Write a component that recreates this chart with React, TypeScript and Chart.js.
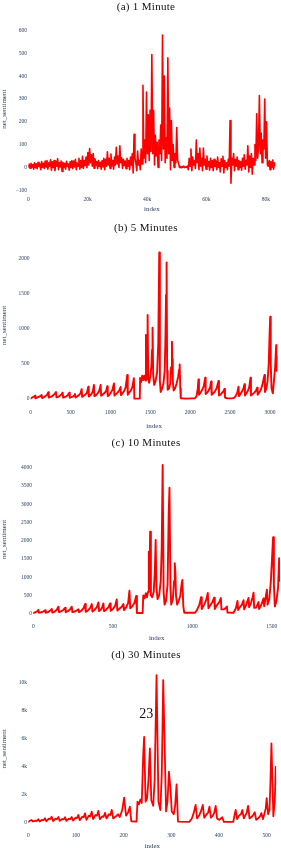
import React, { useEffect, useRef } from "react";
import { Chart, registerables } from "chart.js";

Chart.register(...registerables);

// ---------- (a) 1 Minute : values resampled along index 0 .. 83200 ----------
const oneMinuteLastIndex = 83200;
const oneMinuteValues: number[] = [
  2, 14, -4, 18, 0, 12, -8, 20, -2, 16,
  -6, 22, 4, 15, -10, 25, 0, 18, -5, 28,
  2, 30, -8, 20, 5, 33, -12, 24, 0, 30,
  -15, 26, 5, 38, -10, 20, 2, 28, -18, 22,
  0, 18, -8, 26, 4, 15, -12, 24, 0, 30,
  -6, 28, 2, 35, -10, 20, 5, 40, -8, 30,
  0, 48, -5, 30, 8, 45, -2, 65, 10, 82,
  20, 55, 5, 60, -4, 38, 10, 25, -6, 30,
  4, 22, -8, 30, 2, 40, -10, 35, 5, 68,
  10, 40, -5, 58, 6, 30, -8, 45, 10, 88,
  15, 50, 0, 95, 20, 42, -5, 35, 8, 28,
  -6, 40, 5, 30, -10, 45, 10, 60, -25, 145,
  40, 20, -15, 72, 10, 30, -10, 80, 15, 360,
  40, 120, 20, 330, 60, 230, 30, 250, 70, 495,
  60, 250, 10, 140, 50, 110, 0, 120, 60, 185,
  30, 580, 80, 400, 20, 130, 40, 480, 60, 260,
  -10, 205, 30, 100, 0, 60, 20, 175, 30, 20,
  0, 4, -2, 3, 0, 5, -1, 2, 0, 6,
  -10, 40, 5, 80, -15, 45, 10, 30, -5, 120,
  20, 60, -10, 85, 5, 40, -15, 85, 10, 35,
  -8, 50, 5, 25, -12, 40, 0, 30, -15, 35,
  4, 28, -10, 45, 0, 20, -20, 38, 5, 48,
  -25, 30, 0, 20, -10, 35, 5, 205, -70, 40,
  10, 60, -15, 35, 5, 45, -10, 30, 0, 25,
  -12, 40, 5, 55, -8, 30, 10, 95, -20, 50,
  0, 60, -30, 40, 10, 100, 30, 235, 40, 90,
  315, 60, 150, 20, 120, 80, 300, 40, 200, 10,
  5, 30, -10, 25, 0, 32, -8, 20, 10,
];
const oneMinuteXTicks = [0, 20000, 40000, 60000, 80000];
const oneMinuteXLabels = ["0", "20k", "40k", "60k", "80k"];
const oneMinuteYTicks = [-100, 0, 100, 200, 300, 400, 500, 600];
const oneMinuteYLabels = ["\u2212100", "0", "100", "200", "300", "400", "500", "600"];

// ---------- (b) 5 Minutes : [index, net_sentiment] ----------
const fiveMinutePoints: [number, number][] = [
  [0, 5], [10, 15], [25, 25], [40, 35], [54, 47], [60, 10],
  [80, 20], [100, 30], [120, 40], [137, 55], [143, 12],
  [165, 25], [185, 40], [205, 60], [221, 95], [227, 20],
  [250, 30], [275, 45], [300, 70], [317, 100], [323, 22],
  [345, 30], [365, 45], [385, 65], [401, 90], [407, 20],
  [430, 28], [450, 40], [470, 60], [484, 90], [490, 18],
  [510, 25], [530, 35], [545, 50], [555, 70], [562, 20],
  [585, 40], [605, 55], [625, 80], [639, 140], [645, 30],
  [665, 45], [685, 60], [705, 90], [722, 175], [728, 35],
  [745, 50], [765, 75], [780, 110], [793, 199], [799, 40],
  [820, 55], [840, 80], [860, 120], [877, 200], [883, 45],
  [900, 60], [920, 80], [945, 110], [960, 180], [966, 40],
  [985, 60], [1005, 90], [1025, 130], [1044, 222], [1050, 50],
  [1070, 70], [1090, 90], [1110, 120], [1127, 170], [1133, 55],
  [1150, 80], [1170, 110], [1190, 160], [1211, 341], [1217, 60],
  [1235, 90], [1255, 120], [1275, 170], [1294, 294], [1300, 5],
  [1368, 5], [1372, 300], [1385, 240], [1398, 330], [1410, 270], [1425, 330],
  [1438, 260], [1445, 910], [1452, 280], [1460, 500], [1466, 1193], [1474, 280],
  [1485, 230], [1500, 320], [1515, 480], [1522, 700], [1528, 1013], [1536, 350],
  [1548, 200], [1565, 250], [1585, 380], [1600, 800], [1612, 2083], [1620, 250],
  [1630, 100], [1645, 140], [1665, 220], [1680, 400], [1690, 900], [1697, 1480],
  [1704, 1941], [1711, 400], [1718, 130], [1735, 150], [1750, 220], [1760, 450],
  [1771, 814], [1776, 560], [1782, 250], [1792, 120], [1810, 150], [1830, 220],
  [1850, 320], [1862, 420], [1868, 492], [1876, 150], [1882, 10], [1950, 5],
  [2020, 8], [2060, 10], [2080, 40], [2095, 150], [2104, 279], [2110, 60],
  [2130, 90], [2150, 130], [2170, 180], [2188, 302], [2194, 70],
  [2215, 90], [2235, 130], [2250, 170], [2263, 250], [2269, 60],
  [2290, 80], [2310, 110], [2330, 150], [2342, 200], [2355, 256], [2361, 50],
  [2380, 60], [2400, 90], [2418, 110], [2430, 144], [2436, 20],
  [2460, 10], [2520, 8], [2550, 15], [2570, 40], [2590, 90], [2606, 175], [2612, 40],
  [2630, 70], [2650, 110], [2668, 150], [2681, 209], [2687, 50],
  [2705, 80], [2725, 120], [2742, 180], [2756, 302], [2762, 50],
  [2785, 70], [2805, 90], [2825, 120], [2840, 161], [2846, 60],
  [2865, 90], [2885, 130], [2905, 200], [2920, 280], [2932, 340], [2938, 100],
  [2955, 150], [2970, 250], [2985, 500], [2995, 900], [3003, 1169], [3010, 500],
  [3020, 150], [3036, 80], [3050, 250], [3065, 450], [3078, 766], [3084, 400],
  [3090, 600], [3096, 540],
];
const fiveMinuteXTicks = [0, 500, 1000, 1500, 2000, 2500, 3000];
const fiveMinuteXLabels = ["0", "500", "1000", "1500", "2000", "2500", "3000"];
const fiveMinuteYTicks = [0, 500, 1000, 1500, 2000];
const fiveMinuteYLabels = ["0", "500", "1000", "1500", "2000"];

// ---------- (c) 10 Minutes ----------
const tenMinutePoints: [number, number][] = [
  [0, 20], [15, 40], [25, 70], [32, 101], [36, 25],
  [50, 40], [62, 60], [74, 95], [78, 25],
  [92, 45], [105, 80], [116, 128], [120, 30],
  [135, 60], [148, 110], [158, 192], [162, 40],
  [177, 70], [190, 110], [200, 164], [204, 40],
  [218, 70], [232, 120], [242, 192], [246, 45],
  [260, 60], [274, 90], [284, 119], [288, 40],
  [302, 80], [316, 150], [326, 265], [330, 50],
  [344, 90], [358, 160], [368, 265], [372, 60],
  [386, 110], [400, 180], [410, 311], [414, 70],
  [424, 110], [434, 180], [441, 283], [445, 70],
  [459, 110], [473, 180], [483, 283], [487, 80],
  [501, 130], [515, 220], [525, 393], [529, 90],
  [543, 140], [557, 190], [567, 265], [571, 100],
  [585, 180], [597, 300], [605, 630], [610, 150],
  [622, 200], [637, 300], [647, 485], [652, 20],
  [688, 20], [692, 500], [700, 420], [708, 560], [715, 450], [722, 600],
  [727, 1700], [731, 700], [735, 2247], [740, 500], [748, 450], [758, 600],
  [765, 1200], [770, 2019], [775, 700], [782, 400], [792, 500], [802, 900],
  [808, 1800], [814, 4074], [820, 600], [826, 250], [835, 350], [845, 800],
  [852, 2750], [857, 3452], [863, 700], [868, 250], [878, 400], [886, 900],
  [890, 1381], [894, 1150], [898, 500], [905, 250], [915, 350], [925, 500],
  [933, 800], [938, 923], [944, 200], [950, 25],
  [1018, 25], [1030, 100], [1045, 250], [1056, 450], [1060, 130],
  [1075, 250], [1088, 380], [1098, 570], [1102, 150],
  [1115, 240], [1128, 330], [1138, 440], [1142, 130],
  [1155, 230], [1170, 320], [1180, 430], [1184, 120],
  [1200, 120], [1212, 160], [1218, 200], [1222, 30], [1260, 25],
  [1275, 150], [1285, 350], [1289, 100], [1300, 180], [1313, 250], [1323, 370],
  [1327, 120], [1340, 250], [1354, 430], [1358, 180], [1370, 300], [1380, 450],
  [1386, 575], [1390, 160], [1403, 170], [1417, 320], [1421, 130], [1435, 250],
  [1449, 420], [1453, 200], [1462, 450], [1470, 657], [1474, 250], [1485, 400],
  [1495, 900], [1502, 1500], [1509, 2093], [1514, 800], [1520, 200], [1530, 350],
  [1540, 700], [1547, 1518], [1553, 900],
];
const tenMinuteXTicks = [0, 500, 1000, 1500];
const tenMinuteXLabels = ["0", "500", "1000", "1500"];
const tenMinuteYTicks = [0, 500, 1000, 1500, 2000, 2500, 3000, 3500, 4000];
const tenMinuteYLabels = ["0", "500", "1000", "1500", "2000", "2500", "3000", "3500", "4000"];

// ---------- (d) 30 Minutes ----------
const thirtyMinutePoints: [number, number][] = [
  [0, 60], [4, 150], [7, 190], [10, 80], [15, 150], [18, 120], [21, 240], [24, 90],
  [29, 200], [32, 180], [35, 313], [38, 100], [43, 280], [46, 250], [49, 427], [52, 120],
  [57, 280], [60, 260], [63, 400], [66, 130], [71, 260], [74, 230], [77, 390], [80, 130],
  [85, 280], [88, 250], [91, 400], [94, 150], [99, 350], [102, 330], [105, 547], [108, 180],
  [113, 420], [116, 380], [119, 667], [122, 200], [127, 500], [130, 450], [133, 784], [136, 250],
  [141, 550], [144, 500], [147, 833], [150, 250], [155, 450], [158, 420], [161, 700], [164, 300],
  [169, 600], [172, 550], [175, 904], [178, 300], [184, 450], [188, 600], [192, 400], [197, 900],
  [201, 1780], [205, 500], [209, 700], [213, 1140], [216, 100], [227, 80], [229, 1500],
  [232, 1300], [235, 1650], [238, 1400], [241, 4800], [243, 6120], [246, 1500], [249, 1700],
  [252, 3000], [255, 5300], [258, 1600], [262, 1200], [265, 3000], [269, 10515], [273, 1500],
  [277, 900], [280, 3500], [283, 10160], [289, 800], [292, 1500], [295, 3630],
  [298, 2500], [301, 800], [305, 600], [308, 1200], [311, 2735], [314, 80], [338, 60],
  [343, 300], [347, 700], [351, 1260], [354, 300], [359, 550], [362, 800], [366, 1260],
  [369, 350], [374, 600], [377, 700], [380, 1140], [383, 350], [387, 500], [390, 700],
  [393, 1200], [396, 300], [401, 200], [404, 300], [407, 385], [410, 60], [430, 60],
  [433, 600], [435, 904], [438, 250], [442, 500], [446, 600], [449, 900], [452, 300],
  [455, 500], [458, 700], [461, 1190], [464, 300], [468, 400], [472, 550], [475, 740],
  [478, 200], [482, 300], [486, 450], [489, 690], [492, 250], [495, 600], [498, 1000],
  [500, 1740], [503, 600], [506, 900], [508, 3000], [510, 5650], [514, 450], [517, 1500],
  [519, 3990], [520, 2740],
];
const thirtyMinuteXTicks = [0, 100, 200, 300, 400, 500];
const thirtyMinuteXLabels = ["0", "100", "200", "300", "400", "500"];
const thirtyMinuteYTicks = [0, 2000, 4000, 6000, 8000, 10000];
const thirtyMinuteYLabels = ["0", "2k", "4k", "6k", "8k", "10k"];

const captions = ["(a) 1 Minute", "(b) 5 Minutes", "(c) 10 Minutes", "(d) 30 Minutes"];
const pageNumber = "23";

// ---------- styling ----------
const LINE_COLOR = "#ff0000";
const AXIS_TEXT = "#2a3f5f";
const TICK_FONT = { family: "'Liberation Serif', serif", size: 5.5 };
const TITLE_FONT = { family: "'Liberation Serif', serif", size: 7 };

type PanelCfg = {
  top: number;
  height: number;
  padTop: number;
  padRight: number;
  yAxisW: number;
  xAxisH: number;
  xTickPad: number;
  xTitlePad: number;
  xMin: number;
  xMax: number;
  yMin: number;
  yMax: number;
  xTicks: number[];
  xLabels: string[];
  yTicks: number[];
  yLabels: string[];
  points: { x: number; y: number }[];
  lineWidth: number;
};

const panels: PanelCfg[] = [
  {
    top: 0, height: 220, padTop: 27.8, padRight: 5.6, yAxisW: 28.3, xAxisH: 29.4,
    xTickPad: 6.1, xTitlePad: 6.8, xMin: 0, xMax: oneMinuteLastIndex, yMin: -102, yMax: 612,
    xTicks: oneMinuteXTicks, xLabels: oneMinuteXLabels, yTicks: oneMinuteYTicks, yLabels: oneMinuteYLabels,
    points: oneMinuteValues.map((v, i) => ({ x: (i * oneMinuteLastIndex) / (oneMinuteValues.length - 1), y: v })),
    lineWidth: 1.6,
  },
  {
    top: 215, height: 220, padTop: 29.2, padRight: 3.4, yAxisW: 30.7, xAxisH: 28.3,
    xTickPad: 2.3, xTitlePad: 5.1, xMin: 0, xMax: 3096, yMin: -110, yMax: 2200,
    xTicks: fiveMinuteXTicks, xLabels: fiveMinuteXLabels, yTicks: fiveMinuteYTicks, yLabels: fiveMinuteYLabels,
    points: fiveMinutePoints.map(([x, y]) => ({ x, y })),
    lineWidth: 1.9,
  },
  {
    top: 430, height: 220, padTop: 27.5, padRight: 0.9, yAxisW: 33.3, xAxisH: 28.8,
    xTickPad: 1.8, xTitlePad: 7.3, xMin: 0, xMax: 1553, yMin: -205, yMax: 4280,
    xTicks: tenMinuteXTicks, xLabels: tenMinuteXLabels, yTicks: tenMinuteYTicks, yLabels: tenMinuteYLabels,
    points: tenMinutePoints.map(([x, y]) => ({ x, y })),
    lineWidth: 1.9,
  },
  {
    top: 640, height: 210, padTop: 27.6, padRight: 4.8, yAxisW: 28.3, xAxisH: 19.9,
    xTickPad: 2.6, xTitlePad: 0, xMin: 0, xMax: 520, yMin: -530, yMax: 11050,
    xTicks: thirtyMinuteXTicks, xLabels: thirtyMinuteXLabels, yTicks: thirtyMinuteYTicks, yLabels: thirtyMinuteYLabels,
    points: thirtyMinutePoints.map(([x, y]) => ({ x, y })),
    lineWidth: 1.8,
  },
];

const captionCenters = [5.5, 226.7, 441.7, 654.3];

function PanelChart({ cfg }: { cfg: PanelCfg }) {
  const ref = useRef<HTMLCanvasElement | null>(null);
  useEffect(() => {
    if (!ref.current) return;
    const chart = new Chart(ref.current, {
      type: "line",
      data: {
        datasets: [
          {
            data: cfg.points,
            borderColor: LINE_COLOR,
            backgroundColor: LINE_COLOR,
            borderWidth: cfg.lineWidth,
            pointRadius: 0,
            tension: 0,
            fill: false,
            borderJoinStyle: "round",
            borderCapStyle: "round",
          },
        ],
      },
      options: {
        responsive: false,
        animation: false,
        events: [],
        layout: { padding: { top: cfg.padTop, right: cfg.padRight, bottom: 0, left: 0 } },
        plugins: { legend: { display: false }, tooltip: { enabled: false }, title: { display: false } },
        scales: {
          x: {
            type: "linear",
            min: cfg.xMin,
            max: cfg.xMax,
            grid: { display: false, drawTicks: false },
            border: { display: false },
            afterBuildTicks: (s: any) => {
              s.ticks = cfg.xTicks.map((v) => ({ value: v }));
            },
            afterFit: (s: any) => {
              s.height = cfg.xAxisH;
            },
            ticks: {
              autoSkip: false,
              maxRotation: 0,
              minRotation: 0,
              padding: cfg.xTickPad,
              color: AXIS_TEXT,
              font: TICK_FONT,
              callback: (_v: any, i: number) => cfg.xLabels[i],
            },
            title: {
              display: true,
              text: "index",
              color: AXIS_TEXT,
              font: TITLE_FONT,
              padding: { top: 0, bottom: cfg.xTitlePad },
            },
          },
          y: {
            type: "linear",
            min: cfg.yMin,
            max: cfg.yMax,
            grid: { display: false, drawTicks: false },
            border: { display: false },
            afterBuildTicks: (s: any) => {
              s.ticks = cfg.yTicks.map((v) => ({ value: v }));
            },
            afterFit: (s: any) => {
              s.width = cfg.yAxisW;
            },
            ticks: {
              autoSkip: false,
              padding: 1.2,
              color: AXIS_TEXT,
              font: TICK_FONT,
              callback: (_v: any, i: number) => cfg.yLabels[i],
            },
            title: {
              display: true,
              text: "net_sentiment",
              color: AXIS_TEXT,
              font: TITLE_FONT,
              padding: { top: 0, bottom: 0 },
            },
          },
        },
      } as any,
    });
    return () => chart.destroy();
  }, [cfg]);
  return (
    <canvas
      ref={ref}
      width={281}
      height={cfg.height}
      style={{ position: "absolute", left: 0, top: cfg.top, width: 281, height: cfg.height }}
    />
  );
}

export default function App() {
  return (
    <div
      style={{
        position: "absolute",
        left: 0,
        top: 0,
        width: 281,
        height: 850,
        overflow: "hidden",
        background: "#ffffff",
      }}
    >
      {panels.map((p, i) => (
        <PanelChart key={i} cfg={p} />
      ))}
      {captions.map((c, i) => (
        <div
          key={c}
          style={{
            position: "absolute",
            left: 0,
            width: 292,
            top: captionCenters[i] - 6,
            height: 12,
            lineHeight: "12px",
            textAlign: "center",
            fontFamily: "'Liberation Serif', serif",
            fontSize: 11,
            letterSpacing: 0.3,
            color: "#111",
            whiteSpace: "nowrap",
          }}
        >
          {c}
        </div>
      ))}
      <div
        style={{
          position: "absolute",
          left: 0,
          width: 292.6,
          top: 707,
          height: 14,
          lineHeight: "14px",
          textAlign: "center",
          fontFamily: "'Liberation Serif', serif",
          fontSize: 14,
          color: "#111",
        }}
      >
        {pageNumber}
      </div>
    </div>
  );
}
